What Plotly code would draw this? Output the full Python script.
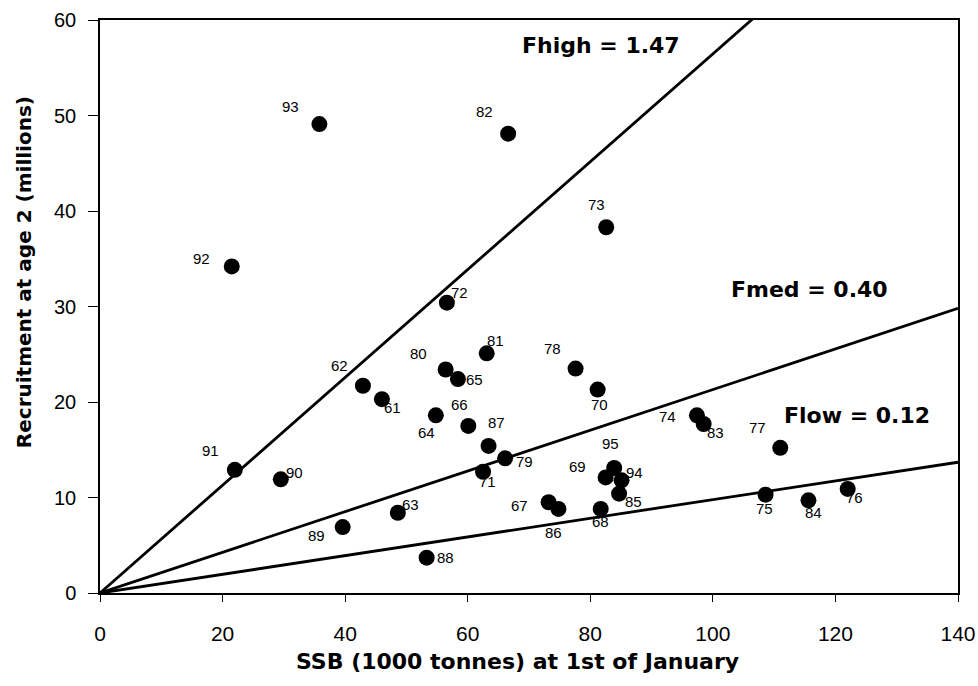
import plotly.graph_objects as go

# Year classes (19xx), spawning stock biomass and recruitment at age 2
years = ["61", "62", "63", "64", "65", "66", "67", "68", "69", "70",
         "71", "72", "73", "74", "75", "76", "77", "78", "79", "80",
         "81", "82", "83", "84", "85", "86", "87", "88", "89", "90",
         "91", "92", "93", "94", "95"]
ssb = [46.0, 42.9, 48.6, 54.8, 58.4, 60.1, 73.2, 81.7, 82.5, 81.2,
       62.5, 56.6, 82.6, 97.4, 108.6, 122.0, 111.0, 77.6, 66.1, 56.4,
       63.1, 66.6, 98.5, 115.6, 84.7, 74.8, 63.4, 53.3, 39.6, 29.5,
       22.0, 21.5, 35.8, 85.1, 83.9]
recruits = [20.3, 21.7, 8.4, 18.6, 22.4, 17.5, 9.5, 8.8, 12.1, 21.3,
            12.7, 30.4, 38.3, 18.6, 10.3, 10.9, 15.2, 23.5, 14.1, 23.4,
            25.1, 48.1, 17.7, 9.7, 10.4, 8.8, 15.4, 3.7, 6.9, 11.9,
            12.9, 34.2, 49.1, 11.8, 13.1]

# Fishing mortality reference lines: recruits-per-SSB slopes
ref_names = ["Fhigh = 1.47", "Fmed = 0.40", "Flow = 0.12"]
ref_slopes = [0.5645, 0.213, 0.0978]
ssb_span = [0, 140]

# Label offsets (pixels, right / down) for each year-class label
label_offset = {
    "61": (11, 8), "62": (-23, -20), "63": (13, -8), "64": (-9, 17),
    "65": (17, 0), "66": (-9, -21), "67": (-29, 3), "68": (0, 13),
    "69": (-28, -11), "70": (2, 15), "71": (4, 10), "72": (13, -10),
    "73": (-10, -23), "74": (-29, 1), "75": (-1, 14), "76": (7, 9),
    "77": (-23, -20), "78": (-23, -20), "79": (19, 3), "80": (-27, -16),
    "81": (9, -13), "82": (-24, -22), "83": (12, 9), "84": (5, 12),
    "85": (14, 8), "86": (-5, 24), "87": (8, -23), "88": (19, 0),
    "89": (-26, 8), "90": (14, -7), "91": (-24, -19), "92": (-30, -8),
    "93": (-29, -18), "94": (13, -8), "95": (-4, -24),
}
# Positions of the reference-line captions (data units)
ref_label_pos = [(81.8, 57.3), (115.8, 31.8), (123.6, 18.6)]

fig = go.Figure()

for slope in ref_slopes:
    fig.add_trace(go.Scatter(
        x=ssb_span, y=[slope * s for s in ssb_span],
        mode="lines", line=dict(color="black", width=2.8),
        hoverinfo="skip", showlegend=False,
    ))

fig.add_trace(go.Scatter(
    x=ssb, y=recruits, mode="markers",
    marker=dict(color="black", size=16),
    text=years, showlegend=False,
))

annotations = []
for yr, sx, ry in zip(years, ssb, recruits):
    dx, dy = label_offset[yr]
    annotations.append(dict(
        x=sx, y=ry, xref="x", yref="y", text=yr, showarrow=False,
        xshift=dx, yshift=-dy, xanchor="center", yanchor="middle",
        font=dict(family="Liberation Sans, Arial", size=15, color="black"),
    ))

for name, (lx, ly) in zip(ref_names, ref_label_pos):
    annotations.append(dict(
        x=lx, y=ly, xref="x", yref="y", text="<b>" + name + "</b>",
        showarrow=False, xanchor="center", yanchor="middle",
        font=dict(family="DejaVu Sans", size=22, color="black"),
    ))

annotations.append(dict(
    x=0.487, y=-0.1204, xref="paper", yref="paper",
    xanchor="center", yanchor="middle",
    text="<b>SSB (1000 tonnes) at 1st of January</b>", showarrow=False,
    font=dict(family="DejaVu Sans", size=22, color="black"),
))
annotations.append(dict(
    x=-0.0885, y=0.56, xref="paper", yref="paper", textangle=-90,
    xanchor="center", yanchor="middle",
    text="<b>Recruitment at age 2 (millions)</b>", showarrow=False,
    font=dict(family="DejaVu Sans", size=20, color="black"),
))

fig.update_layout(
    width=978, height=686,
    margin=dict(l=100, r=20, t=20, b=93),
    plot_bgcolor="white", paper_bgcolor="white",
    annotations=annotations,
    xaxis=dict(
        range=[0, 140], tickvals=[0, 20, 40, 60, 80, 100, 120, 140],
        showgrid=False, zeroline=False, showline=True, linecolor="black",
        linewidth=1.5, mirror=True, ticks="outside", ticklen=7,
        tickcolor="black", ticklabelstandoff=14, automargin=False,
        tickfont=dict(family="Liberation Sans, Arial", size=21, color="black"),
    ),
    yaxis=dict(
        range=[0, 60], tickvals=[0, 10, 20, 30, 40, 50, 60],
        showgrid=False, zeroline=False, showline=True, linecolor="black",
        linewidth=1.5, mirror=True, ticks="outside", ticklen=10,
        tickcolor="black", ticklabelstandoff=8, automargin=False,
        tickfont=dict(family="Liberation Sans, Arial", size=20, color="black"),
    ),
)

fig.write_html("out.html")
